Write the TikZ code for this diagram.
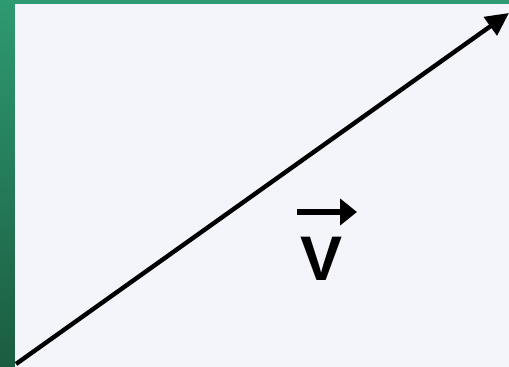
\documentclass[tikz,border=0pt]{standalone}
\usepackage{fontspec}
\setmainfont{Liberation Sans}
\usetikzlibrary{arrows.meta}
\definecolor{bggreen}{HTML}{2E9A72}
\definecolor{bggreendark}{HTML}{1B5C40}
\definecolor{panel}{HTML}{F4F5FA}
\tikzset{
  vecline/.style={line width=4.4pt, -{Triangle[length=23pt,width=22pt]}},
  labarrow/.style={line width=5.5pt, -{Triangle[length=17pt,width=26pt]}},
  lab/.style={font=\bfseries\fontsize{63}{63}\selectfont, inner sep=0pt}
}
\begin{document}
\begin{tikzpicture}[x=1pt,y=1pt]
\useasboundingbox (0,0) rectangle (509,367);
\shade[top color=bggreen, bottom color=bggreendark] (0,0) rectangle (509,367);
\fill[panel] (15,0) rectangle (509,363);
\coordinate (s) at (16,3);
\coordinate (t) at (509,354);
\draw[vecline] (s) -- (t);
\node[lab] (v) at (321.5,108.5) {V};
\coordinate (a1) at (297,155);
\coordinate (a2) at (357,155);
\draw[labarrow] (a1) -- (a2);
\end{tikzpicture}
\end{document}
